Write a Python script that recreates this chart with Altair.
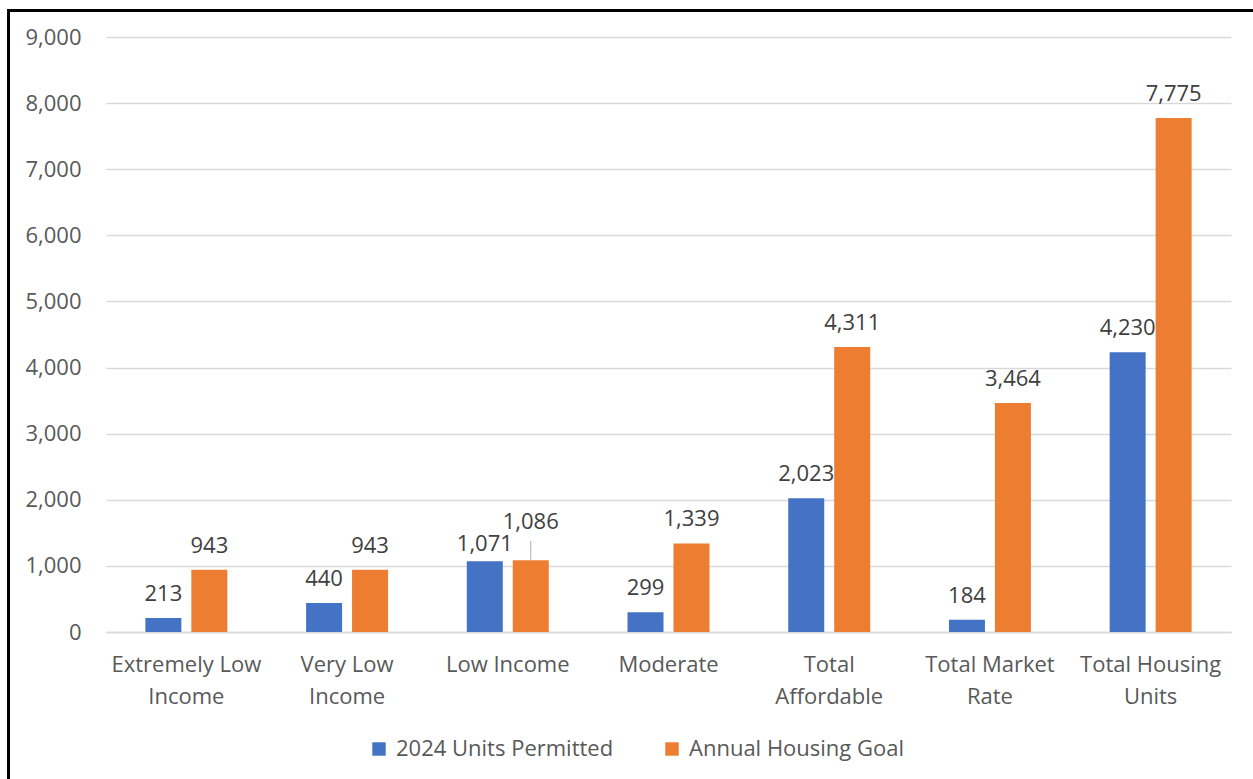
import altair as alt
import pandas as pd

categories = ["Extremely Low\nIncome", "Very Low\nIncome", "Low Income", "Moderate",
              "Total\nAffordable", "Total Market\nRate", "Total Housing\nUnits"]
series_names = ["2024 Units Permitted", "Annual Housing Goal"]
permitted = [213, 440, 1071, 299, 2023, 184, 4230]
goal = [943, 943, 1086, 1339, 4311, 3464, 7775]
colors = ["#4472C4", "#ED7D31"]
y_ticks = [0, 1000, 2000, 3000, 4000, 5000, 6000, 7000, 8000, 9000]

rows = []
for c, p, g in zip(categories, permitted, goal):
    rows.append({"cat": c, "series": series_names[0], "value": p})
    rows.append({"cat": c, "series": series_names[1], "value": g})
df = pd.DataFrame(rows)

FONT = "Open Sans"
FS = 22
LABEL_COLOR = "#404040"
AXIS_COLOR = "#595959"

x_enc = alt.X("cat:N", sort=categories, title=None,
              scale=alt.Scale(paddingInner=0.49, paddingOuter=0.245),
              axis=alt.Axis(labelAngle=0, labelExpr="split(datum.label, '\\n')",
                            labelLineHeight=32, labelPadding=22, labelBaseline="top",
                            domain=True, domainColor="#d9d9d9", domainWidth=1.5,
                            ticks=False, grid=False, labelColor=AXIS_COLOR,
                            labelFontSize=FS, labelFont=FONT, labelLimit=0))
xo_enc = alt.XOffset("series:N", sort=series_names,
                     scale=alt.Scale(paddingInner=0.217, paddingOuter=0))
y_enc = alt.Y("value:Q", title=None,
              scale=alt.Scale(domain=[0, 9000], nice=False),
              axis=alt.Axis(values=y_ticks, format=",.0f", formatType="number",
                            domain=False, ticks=False, grid=True,
                            gridColor="#d9d9d9", gridWidth=1.5,
                            labelPadding=25, labelColor=AXIS_COLOR,
                            labelFontSize=FS, labelFont=FONT))

base = alt.Chart(df)

bars = base.mark_bar().encode(
    x=x_enc, xOffset=xo_enc, y=y_enc,
    color=alt.Color("series:N", sort=series_names,
                    scale=alt.Scale(domain=series_names, range=colors),
                    legend=alt.Legend(title=None, orient="none", direction="horizontal",
                                      legendX=262, legendY=701, columns=2,
                                      columnPadding=47, symbolType="square",
                                      symbolSize=180, symbolStrokeWidth=0,
                                      labelFontSize=22, labelFont=FONT, labelLimit=0,
                                      labelColor=AXIS_COLOR, labelOffset=6)),
)

txt_common = dict(x=x_enc, xOffset=xo_enc, y=y_enc,
                  text=alt.Text("value:Q", format=","))

labels = base.transform_filter("datum.cat != 'Low Income'").mark_text(
    baseline="alphabetic", dy=-17, fontSize=FS, font=FONT, color=LABEL_COLOR
).encode(**txt_common)

lbl_low_perm = base.transform_filter(
    "datum.cat == 'Low Income' && datum.series == '2024 Units Permitted'"
).mark_text(baseline="alphabetic", dy=-10, fontSize=FS, font=FONT, color=LABEL_COLOR).encode(**txt_common)

lbl_low_goal = base.transform_filter(
    "datum.cat == 'Low Income' && datum.series == 'Annual Housing Goal'"
).mark_text(baseline="alphabetic", dy=-31, fontSize=FS, font=FONT, color=LABEL_COLOR).encode(**txt_common)

leader = base.transform_filter(
    "datum.cat == 'Low Income' && datum.series == 'Annual Housing Goal'"
).mark_tick(orient="vertical", size=19, thickness=1, yOffset=-10, color="#8c8c8c").encode(
    x=x_enc, xOffset=xo_enc, y=y_enc)

one = pd.DataFrame({"a": [0]})
border_top = alt.Chart(one).mark_rule(color="black", strokeWidth=3).encode(
    x=alt.value(-99), x2=alt.value(1160), y=alt.value(-26.5))
border_left = alt.Chart(one).mark_rule(color="black", strokeWidth=3).encode(
    x=alt.value(-97.5), y=alt.value(-28), y2=alt.value(760))

chart = alt.layer(bars, labels, lbl_low_perm, lbl_low_goal, leader, border_top, border_left).properties(
    width=1125, height=595,
    autosize=alt.AutoSizeParams(type="none"),
    padding={"left": 106, "top": 37, "right": 22, "bottom": 147},
    background="white",
).configure_view(stroke=None)

chart.save("out.html", embed_options={"renderer": "svg", "actions": False})
